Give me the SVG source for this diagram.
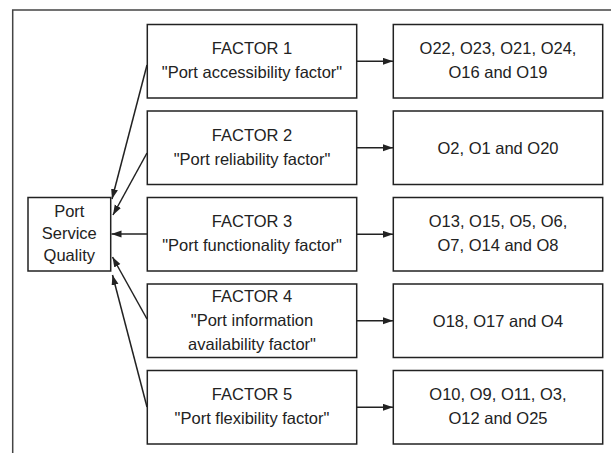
<svg xmlns="http://www.w3.org/2000/svg" width="611" height="453" viewBox="0 0 611 453">
<style>
.box{fill:#fff;stroke:#222;stroke-width:1.5}
.t{font-family:"Liberation Sans",Arial,sans-serif;font-size:16.5px;fill:#222;text-anchor:middle}
.c{stroke:#222;stroke-width:1.5;fill:none;marker-end:url(#ah)}
.frame{stroke:#444;stroke-width:1.5;fill:none}
</style>
<defs>
<marker id="ah" markerUnits="userSpaceOnUse" markerWidth="11" markerHeight="8" refX="10" refY="3.5" orient="auto">
<path d="M0,0 L10,3.5 L0,7 z" fill="#222"/>
</marker>
</defs>
<rect width="611" height="453" fill="#fff"/>
<path class="frame" d="M12.7,453 V10 H611"/>
<g id="connectors">
<line class="c" x1="147" y1="65" x2="112" y2="199"/>
<line class="c" x1="147" y1="153" x2="113" y2="215"/>
<line class="c" x1="147" y1="234" x2="111.5" y2="234"/>
<line class="c" x1="147" y1="319" x2="112.5" y2="257"/>
<line class="c" x1="147" y1="407" x2="112.5" y2="275"/>
<line class="c" x1="357" y1="61.3" x2="393" y2="61.3"/>
<line class="c" x1="357" y1="147.8" x2="393" y2="147.8"/>
<line class="c" x1="357" y1="234.3" x2="393" y2="234.3"/>
<line class="c" x1="357" y1="320.8" x2="393" y2="320.8"/>
<line class="c" x1="357" y1="407.3" x2="393" y2="407.3"/>
</g>
<g id="psq">
<rect class="box" x="28" y="197.5" width="82.7" height="73.5"/>
<text class="t" x="69.3" y="217">Port</text>
<text class="t" x="69.3" y="239">Service</text>
<text class="t" x="69.3" y="261">Quality</text>
</g>
<g id="f1">
<rect class="box" x="147.3" y="24.5" width="209.4" height="73.5"/>
<text class="t" x="252" y="54">FACTOR 1</text>
<text class="t" x="252" y="78">"Port accessibility factor"</text>
</g>
<g id="f2">
<rect class="box" x="147.3" y="111" width="209.4" height="73.5"/>
<text class="t" x="252" y="140.5">FACTOR 2</text>
<text class="t" x="252" y="164.5">"Port reliability factor"</text>
</g>
<g id="f3">
<rect class="box" x="147.3" y="197.5" width="209.4" height="73.5"/>
<text class="t" x="252" y="227">FACTOR 3</text>
<text class="t" x="252" y="251">"Port functionality factor"</text>
</g>
<g id="f4">
<rect class="box" x="147.3" y="284" width="209.4" height="73.5"/>
<text class="t" x="252" y="302">FACTOR 4</text>
<text class="t" x="252" y="326">"Port information</text>
<text class="t" x="252" y="350">availability factor"</text>
</g>
<g id="f5">
<rect class="box" x="147.3" y="370.5" width="209.4" height="73.5"/>
<text class="t" x="252" y="400">FACTOR 5</text>
<text class="t" x="252" y="424">"Port flexibility factor"</text>
</g>
<g id="o1">
<rect class="box" x="393.3" y="24.5" width="209.4" height="73.5"/>
<text class="t" x="498" y="54">O22, O23, O21, O24,</text>
<text class="t" x="498" y="78">O16 and O19</text>
</g>
<g id="o2">
<rect class="box" x="393.3" y="111" width="209.4" height="73.5"/>
<text class="t" x="498" y="153.5">O2, O1 and O20</text>
</g>
<g id="o3">
<rect class="box" x="393.3" y="197.5" width="209.4" height="73.5"/>
<text class="t" x="498" y="227">O13, O15, O5, O6,</text>
<text class="t" x="498" y="251">O7, O14 and O8</text>
</g>
<g id="o4">
<rect class="box" x="393.3" y="284" width="209.4" height="73.5"/>
<text class="t" x="498" y="326.5">O18, O17 and O4</text>
</g>
<g id="o5">
<rect class="box" x="393.3" y="370.5" width="209.4" height="73.5"/>
<text class="t" x="498" y="400">O10, O9, O11, O3,</text>
<text class="t" x="498" y="424">O12 and O25</text>
</g>
</svg>
